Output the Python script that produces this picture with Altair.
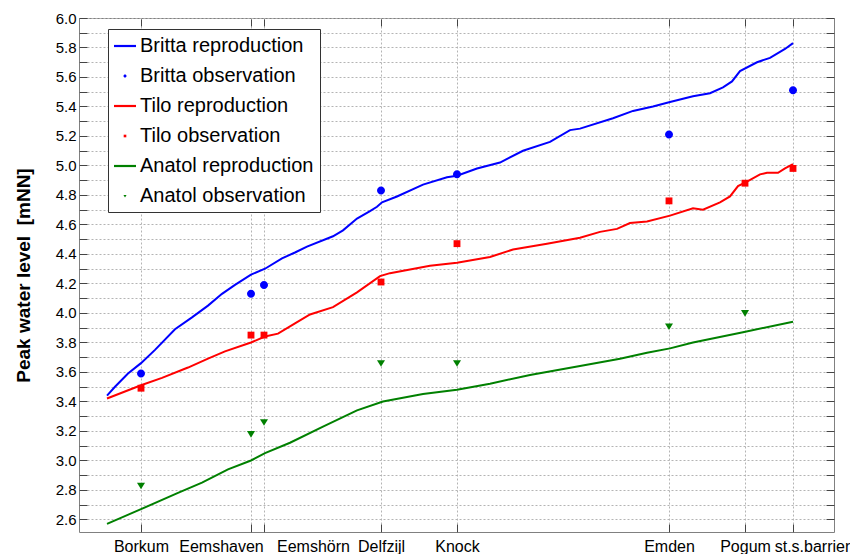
import altair as alt
import pandas as pd

FONT = "Liberation Sans"

# Stations along the estuary (distance, km)
stations = ["Borkum", "Eemshaven", "Eemshörn", "Delfzijl", "Knock", "Emden", "Pogum", "st.s.barrier"]
station_km = [6.2, 17.2, 18.5, 30.2, 37.8, 59.0, 66.6, 71.4]
label_dx = [0, -30, 49, 0, 0, 0, 0, 19]

# Reproductions (model)
britta_km = [2.8, 3.6, 4.9, 6.2, 7.6, 9.6, 11.3, 12.9, 14.3, 15.6, 17.2, 18.6, 20.3, 21.6, 22.8,
             25.4, 26.4, 27.8, 29.1, 29.8, 30.3, 31.8, 34.4, 36.8, 37.8, 39.8, 42.1, 44.4, 47.1,
             49.1, 50.1, 53.4, 55.4, 57.4, 59.1, 61.4, 63.1, 64.4, 65.3, 66.1, 67.8, 69.1, 70.1,
             70.6, 71.4]
britta_rep = [3.44, 3.50, 3.59, 3.66, 3.75, 3.89, 3.97, 4.05, 4.13, 4.19, 4.26, 4.30, 4.37, 4.41, 4.45,
              4.52, 4.56, 4.64, 4.69, 4.72, 4.75, 4.79, 4.87, 4.92, 4.93, 4.98, 5.02, 5.10, 5.16,
              5.24, 5.25, 5.32, 5.37, 5.40, 5.43, 5.47, 5.49, 5.53, 5.57, 5.64, 5.70, 5.73, 5.77,
              5.79, 5.83]

tilo_km = [2.8, 6.2, 8.3, 10.9, 12.9, 14.6, 17.2, 18.6, 19.9, 21.6, 23.1, 25.4, 27.8, 30.1, 31.1,
           35.1, 37.8, 41.1, 43.4, 46.8, 50.1, 52.1, 53.8, 55.1, 56.8, 59.1, 61.4, 62.4, 64.1,
           65.1, 65.9, 66.8, 68.1, 68.8, 69.9, 70.6, 71.4]
tilo_rep = [3.42, 3.51, 3.56, 3.63, 3.69, 3.74, 3.80, 3.84, 3.86, 3.93, 3.99, 4.04, 4.14, 4.25, 4.27,
            4.32, 4.34, 4.38, 4.43, 4.47, 4.51, 4.55, 4.57, 4.61, 4.62, 4.66, 4.71, 4.70, 4.75,
            4.79, 4.86, 4.89, 4.94, 4.95, 4.95, 4.98, 5.01]

anatol_km = [2.8, 6.2, 9.9, 12.3, 14.9, 17.2, 18.6, 21.1, 24.4, 27.8, 30.4, 34.4, 37.8, 41.1,
             45.1, 50.1, 54.1, 56.8, 59.1, 61.4, 66.4, 71.4]
anatol_rep = [2.57, 2.67, 2.78, 2.85, 2.94, 3.00, 3.05, 3.12, 3.23, 3.34, 3.40, 3.45, 3.48, 3.52,
              3.58, 3.64, 3.69, 3.73, 3.76, 3.80, 3.87, 3.94]

# Observations at the stations (None = not observed)
britta_obs = [3.59, 4.13, 4.19, 4.83, 4.94, 5.21, None, 5.51]
tilo_obs = [3.49, 3.85, 3.85, 4.21, 4.47, 4.76, 4.88, 4.98]
anatol_obs = [2.83, 3.18, 3.26, 3.66, 3.66, 3.91, 4.00, None]

y_ticks = [2.6, 2.7, 2.8, 2.9, 3.0, 3.1, 3.2, 3.3, 3.4, 3.5, 3.6, 3.7, 3.8, 3.9, 4.0, 4.1, 4.2,
           4.3, 4.4, 4.5, 4.6, 4.7, 4.8, 4.9, 5.0, 5.1, 5.2, 5.3, 5.4, 5.5, 5.6, 5.7, 5.8, 5.9, 6.0]

series_names = ["Britta reproduction", "Britta observation", "Tilo reproduction",
                "Tilo observation", "Anatol reproduction", "Anatol observation"]
series_colors = ["#0000ff", "#0000ff", "#ff0000", "#ff0000", "#008000", "#008000"]
rep_names = ["Britta reproduction", "Tilo reproduction", "Anatol reproduction"]
rep_colors = ["#0000ff", "#ff0000", "#008000"]

# symbol glyphs (unit coordinates): a bar for model lines, small markers for observations
BAR = "M-1,-0.1H1V0.1H-1Z"
DOT = "M0.14,0A0.14,0.14 0 1,1 -0.14,0A0.14,0.14 0 1,1 0.14,0Z"
SQUARE = "M-0.12,-0.12H0.12V0.12H-0.12Z"
TRI_DOWN = "M-0.14,-0.1L0.14,-0.1L0,0.13Z"
series_shapes = [BAR, DOT, BAR, SQUARE, BAR, TRI_DOWN]

rows = []
for name, kms, vals in [("Britta reproduction", britta_km, britta_rep),
                        ("Tilo reproduction", tilo_km, tilo_rep),
                        ("Anatol reproduction", anatol_km, anatol_rep)]:
    for k, v in zip(kms, vals):
        rows.append({"model": name, "km": k, "value": v})
line_df = pd.DataFrame(rows)

orows = []
for name, vals in [("Britta observation", britta_obs),
                   ("Tilo observation", tilo_obs),
                   ("Anatol observation", anatol_obs)]:
    for k, v in zip(station_km, vals):
        if v is not None:
            orows.append({"series": name, "km": k, "value": v})
obs_df = pd.DataFrame(orows)

label_expr = " : ".join(
    f"abs(datum.value - {k}) < 0.05 ? '{n}'" for k, n in zip(station_km, stations)
) + " : ''"
offset_conditions = [
    {"test": f"abs(datum.value - {k}) < 0.05", "value": d}
    for k, d in zip(station_km, label_dx) if d != 0
]

xscale = alt.Scale(domain=[0, 75.5], nice=False, zero=False)
yscale = alt.Scale(domain=[2.515, 6.0], nice=False, zero=False)
line_color_scale = alt.Scale(domain=rep_names, range=rep_colors)
color_scale = alt.Scale(domain=series_names, range=series_colors)
shape_scale = alt.Scale(domain=series_names, range=series_shapes)

GRID_COLOR = "#b4b4b4"
TICK_COLOR = "#444444"

x_bottom = alt.Axis(orient="bottom", values=station_km, labelExpr=label_expr, offset=-8,
                    tickSize=8, tickColor=TICK_COLOR, domain=False, grid=True,
                    gridDash=[2, 2], gridColor=GRID_COLOR, labelFontSize=16, labelColor="black",
                    labelPadding=6, labelOverlap=False, labelFlush=False, title=None,
                    labelOffset={"condition": offset_conditions, "value": 0})
x_top = alt.Axis(orient="top", values=station_km, labels=False, offset=-8, tickSize=7,
                 tickColor=TICK_COLOR, domain=False, grid=False, title=None)
y_left = alt.Axis(orient="left", values=y_ticks,
                  labelExpr="round(datum.value * 10) % 2 == 0 ? format(datum.value, '.1f') : ''",
                  offset=-8, tickSize=8, tickColor=TICK_COLOR, domain=False, grid=True,
                  gridDash=[2, 2], gridColor=GRID_COLOR, labelFontSize=15, labelColor="black",
                  labelPadding=3, labelOverlap=False, labelFlush=False,
                  title="Peak water level\u00a0 [mNN]", titleFontSize=19, titleFontWeight="bold",
                  titleColor="black", titleX=-54, titleY=257)
y_right = alt.Axis(orient="right", values=y_ticks, labels=False, offset=-8, tickSize=8,
                   tickColor=TICK_COLOR, domain=False, grid=False, title=None)

legend = alt.Legend(title=None, orient="none", legendX=29, legendY=11, direction="vertical",
                    fillColor="white", strokeColor="#333333", padding=6, cornerRadius=0,
                    labelFontSize=20, labelColor="black", labelLimit=0, rowPadding=9,
                    symbolSize=484, labelOffset=4, symbolOpacity=1, symbolStrokeWidth=0)

lines = alt.Chart(line_df).mark_line(strokeWidth=2).encode(
    x=alt.X("km:Q", scale=xscale, axis=x_bottom),
    y=alt.Y("value:Q", scale=yscale, axis=y_left),
    color=alt.Color("model:N", scale=line_color_scale, legend=None),
)

points = alt.Chart(obs_df).mark_point(filled=True, opacity=1, strokeWidth=0, size=3265).encode(
    x=alt.X("km:Q", scale=xscale, axis=x_top),
    y=alt.Y("value:Q", scale=yscale, axis=y_right),
    color=alt.Color("series:N", scale=color_scale, legend=legend),
    shape=alt.Shape("series:N", scale=shape_scale, legend=legend),
)

chart = alt.layer(lines, points).resolve_scale(
    color="independent", shape="independent"
).properties(
    width=755, height=514,
    autosize=alt.AutoSizeParams(type="none"),
    padding={"left": 71, "top": 10, "right": 16, "bottom": 28},
).configure_view(stroke="#808080", strokeWidth=1).configure_axis(
    labelFont=FONT, titleFont=FONT
).configure_legend(labelFont=FONT)

chart.save("out.html", embed_options={"renderer": "svg", "actions": False})
